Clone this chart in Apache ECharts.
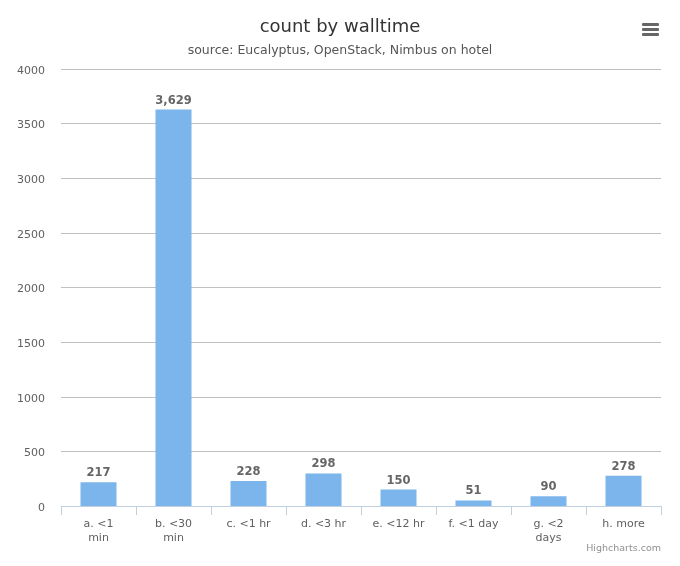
<!DOCTYPE html>
<html>
<head>
<meta charset="utf-8">
<script src="https://cdn.jsdelivr.net/npm/echarts@6/dist/echarts.min.js"></script>
<style>html,body{margin:0;padding:0;background:#fff;}#c{width:680px;height:566px;}</style>
</head>
<body>
<div id="c"></div>
<script>
var categories = ["a. <1 min", "b. <30 min", "c. <1 hr", "d. <3 hr", "e. <12 hr", "f. <1 day", "g. <2 days", "h. more"];
var counts = [217, 3629, 228, 298, 150, 51, 90, 278];
var yTicks = [0, 500, 1000, 1500, 2000, 2500, 3000, 3500, 4000];
var labelLines = {"a. <1 min": "a. <1\nmin", "b. <30 min": "b. <30\nmin", "g. <2 days": "g. <2\ndays"};

var font = "'DejaVu Sans', sans-serif";
var chart = echarts.init(document.getElementById('c'), null, {renderer: 'canvas'});
chart.setOption({
  animation: false,
  title: {
    text: 'count by walltime',
    subtext: 'source: Eucalyptus, OpenStack, Nimbus on hotel',
    left: 'center',
    top: 13,
    itemGap: 8,
    textStyle: {fontFamily: font, fontSize: 18, fontWeight: 'normal', color: '#333333'},
    subtextStyle: {fontFamily: font, fontSize: 12.5, color: '#555555'}
  },
  grid: {left: 61, right: 19, top: 69, bottom: 60, containLabel: false},
  xAxis: {
    type: 'category',
    data: categories,
    axisLine: {lineStyle: {color: '#C0D0E0'}},
    axisTick: {show: true, length: 9, alignWithLabel: false, lineStyle: {color: '#C0D0E0'}},
    axisLabel: {
      fontFamily: font, fontSize: 11, color: '#606060', margin: 11, lineHeight: 14, interval: 0,
      formatter: function (v) { return labelLines[v] || v; }
    },
    splitLine: {show: false}
  },
  yAxis: {
    type: 'value',
    min: yTicks[0],
    max: yTicks[yTicks.length - 1],
    interval: 500,
    axisLine: {show: false},
    axisTick: {show: false},
    axisLabel: {
      fontFamily: font, fontSize: 11, color: '#606060', margin: 16,
      formatter: function (v) { return '{t|' + v + '}'; },
      rich: {t: {fontFamily: font, fontSize: 11, color: '#606060', padding: [4, 0, 0, 0]}}
    },
    splitLine: {lineStyle: {color: '#C0C0C0', width: 1}}
  },
  series: [{
    type: 'bar',
    data: counts,
    barWidth: 36,
    itemStyle: {color: '#7cb5ec'},
    label: {
      show: true,
      position: 'top',
      distance: 3,
      fontFamily: font,
      fontSize: 11.5,
      fontWeight: 'bold',
      color: '#666666',
      formatter: function (p) { return p.value.toLocaleString('en-US'); }
    }
  }],
  graphic: [
    {type: 'rect', shape: {x: 642, y: 23, width: 17, height: 3, r: 1}, style: {fill: '#666666'}},
    {type: 'rect', shape: {x: 642, y: 28, width: 17, height: 3, r: 1}, style: {fill: '#666666'}},
    {type: 'rect', shape: {x: 642, y: 33, width: 17, height: 3, r: 1}, style: {fill: '#666666'}},
    {type: 'text', right: 19, top: 544, style: {text: 'Highcharts.com', fontFamily: font, fontSize: 9.5, fill: '#909090'}}
  ]
});
</script>
</body>
</html>
